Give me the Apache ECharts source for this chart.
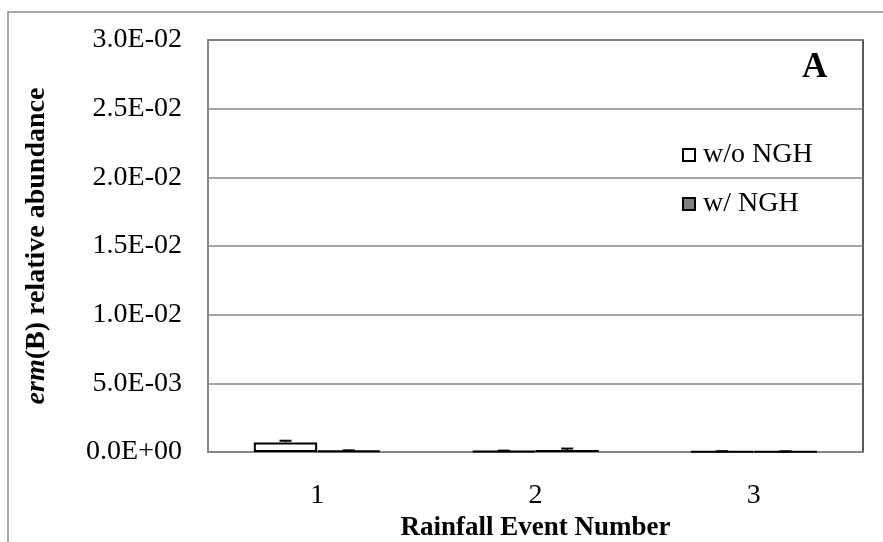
<!DOCTYPE html>
<html>
<head>
<meta charset="utf-8">
<script src="https://cdn.jsdelivr.net/npm/echarts@6/dist/echarts.min.js"></script>
<style>
html, body { margin: 0; padding: 0; background: #fff; }
#main { width: 883px; height: 542px; }
</style>
</head>
<body>
<div id="main"></div>
<script>
var categories = ['1', '2', '3'];
var seriesNames = ['w/o NGH', 'w/ NGH'];
var withoutNGH = [0.0007, 0.00008, 0.00005];
var withoutNGHErr = [0.00012, 0.00002, 0.00001];
var withNGH = [0.0001, 0.00015, 0.00004];
var withNGHErr = [0.00002, 0.0001, 0.00001];
var yTicks = [0, 0.005, 0.01, 0.015, 0.02, 0.025, 0.03];

var dom = document.getElementById('main');
var myChart = echarts.init(dom, null, { renderer: 'canvas' });

var font = '"Liberation Serif", "Times New Roman", serif';

function sci(v) {
  var s = v.toExponential(1).toUpperCase();
  var parts = s.split('E');
  var exp = parseInt(parts[1], 10);
  var sign = exp < 0 ? '-' : '+';
  var e = Math.abs(exp);
  return parts[0] + 'E' + sign + (e < 10 ? '0' + e : '' + e);
}

function errorSeries(values, errs, barIndex) {
  var data = values.map(function (v, i) { return [i, v, v + errs[i]]; });
  return {
    type: 'custom',
    name: 'err' + barIndex,
    silent: true,
    z: 5,
    renderItem: function (params, api) {
      var idx = api.value(0);
      var top = api.coord([idx, api.value(2)]);
      var base = api.coord([idx, api.value(1)]);
      var band = api.size([1, 0])[0];
      var barW = band * 0.29;
      var cx = top[0] + (barIndex === 0 ? -barW / 2 : barW / 2);
      var half = 6;
      return {
        type: 'group',
        children: [
          { type: 'line', shape: { x1: cx, y1: base[1], x2: cx, y2: top[1] }, style: { stroke: '#000', lineWidth: 1.5 } },
          { type: 'line', shape: { x1: cx - half, y1: top[1], x2: cx + half, y2: top[1] }, style: { stroke: '#000', lineWidth: 2 } }
        ]
      };
    },
    data: data
  };
}

var option = {
  animation: false,
  textStyle: { fontFamily: font },
  graphic: [
    { type: 'rect', shape: { x: 8, y: 12, width: 900, height: 560 }, style: { fill: 'none', stroke: '#8c8c8c', lineWidth: 1.5 }, z: -1 },
    { type: 'text', left: 802, top: 50, style: { text: 'A', font: 'bold 35px ' + font, fill: '#000' } }
  ],
  grid: {
    left: 208, right: 20, top: 40, bottom: 90,
    outerBoundsMode: 'none',
    containLabel: false,
    show: true, borderColor: '#222', borderWidth: 1.5, backgroundColor: '#fff'
  },
  legend: {
    orient: 'vertical',
    left: 677,
    top: 136,
    itemGap: 21,
    itemWidth: 12,
    itemHeight: 12,
    icon: 'rect',
    data: seriesNames,
    textStyle: { fontFamily: font, fontSize: 28, color: '#000', padding: [0, 0, 0, 3] }
  },
  xAxis: {
    type: 'category',
    data: categories,
    name: 'Rainfall Event Number',
    nameLocation: 'middle',
    nameGap: 62,
    nameTextStyle: { fontFamily: font, fontSize: 27, fontWeight: 'bold', color: '#000' },
    axisLine: { show: true, lineStyle: { color: '#868686', width: 2 } },
    axisTick: { show: false },
    axisLabel: { fontFamily: font, fontSize: 28, color: '#000', margin: 30 }
  },
  yAxis: {
    type: 'value',
    min: 0,
    max: 0.03,
    interval: 0.005,
    name: '{i|erm}{b|(B) relative abundance}',
    nameLocation: 'middle',
    nameRotate: 90,
    nameGap: 157,
    nameTextStyle: {
      rich: {
        i: { fontFamily: font, fontSize: 28, fontWeight: 'bold', fontStyle: 'italic', color: '#000' },
        b: { fontFamily: font, fontSize: 28, fontWeight: 'bold', color: '#000' }
      }
    },
    axisLine: { show: true, lineStyle: { color: '#868686', width: 2 } },
    axisTick: { show: false },
    splitLine: { lineStyle: { color: '#868686', width: 1.5 } },
    axisLabel: {
      fontFamily: font, fontSize: 28, color: '#000', margin: 26,
      formatter: function (v) { return sci(v); }
    }
  },
  series: [
    {
      name: seriesNames[0],
      type: 'bar',
      data: withoutNGH,
      barWidth: '29%',
      barGap: '0%',
      itemStyle: { color: '#fff', borderColor: '#000', borderWidth: 2 }
    },
    {
      name: seriesNames[1],
      type: 'bar',
      data: withNGH,
      barWidth: '29%',
      itemStyle: { color: '#808080', borderColor: '#000', borderWidth: 2 }
    },
    errorSeries(withoutNGH, withoutNGHErr, 0),
    errorSeries(withNGH, withNGHErr, 1)
  ]
};

if (option && typeof option === 'object') {
  myChart.setOption(option);
}

window.addEventListener('resize', myChart.resize);
</script>
</body>
</html>
